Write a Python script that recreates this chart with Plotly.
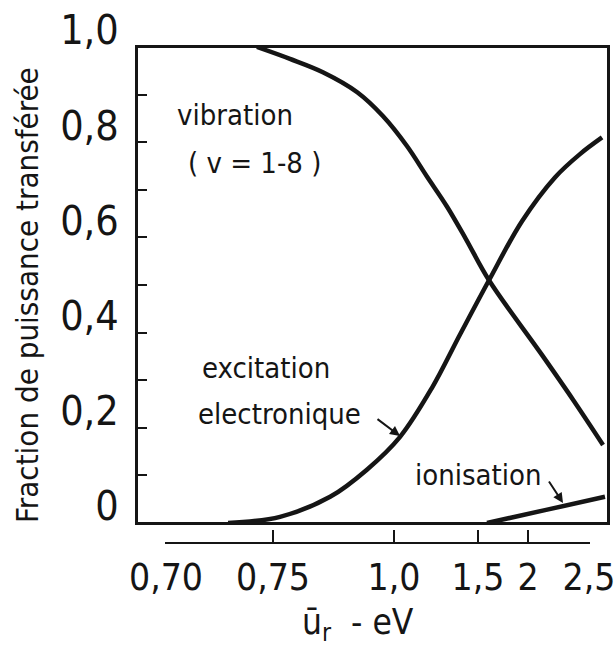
import numpy as np
import plotly.graph_objects as go

# ---- axis definitions (hand-drawn, non-uniform energy scale) ----
X_TICK_VALUES = [0.70, 0.75, 1.0, 1.5, 2.0, 2.5]
X_TICK_LABELS = ["0,70", "0,75", "1,0", "1,5", "2", "2,5"]
X_TICK_SCALE = [6.157, 28.875, 54.565, 72.399, 83.015, 95.966]   # where each tick sits on the 0-100 frame scale

Y_TICK_VALUES = [0, 0.2, 0.4, 0.6, 0.8, 1.0]
Y_TICK_LABELS = ["0", "0,2", "0,4", "0,6", "0,8", "1,0"]

# ---- data (energy in eV, fraction of transferred power) ----
VIB_EV = [0.7425, 0.785, 0.853, 0.924, 0.977, 1.077, 1.196, 1.315, 1.429, 1.61, 2.123, 2.369, 2.615]
VIB_FRAC = [1.0, 0.975, 0.947, 0.905, 0.855, 0.792, 0.728, 0.665, 0.596, 0.51, 0.35, 0.259, 0.164]

EXC_EV = [0.729, 0.7645, 0.868, 0.944, 1.036, 1.226, 1.393, 1.61, 1.94, 2.221, 2.426, 2.607]
EXC_FRAC = [0.0, 0.013, 0.055, 0.112, 0.181, 0.284, 0.396, 0.51, 0.634, 0.726, 0.775, 0.81]

ION_EV = [1.59, 2.139, 2.631]
ION_FRAC = [0.0, 0.027, 0.055]


def to_scale(values):
    """Map energies onto the drawn (piecewise) axis scale, extrapolating linearly past the ends."""
    v = np.asarray(values, dtype=float)
    xv = np.asarray(X_TICK_VALUES)
    xs = np.asarray(X_TICK_SCALE)
    out = np.interp(v, xv, xs)
    hi_slope = (xs[-1] - xs[-2]) / (xv[-1] - xv[-2])
    lo_slope = (xs[1] - xs[0]) / (xv[1] - xv[0])
    out = np.where(v > xv[-1], xs[-1] + (v - xv[-1]) * hi_slope, out)
    out = np.where(v < xv[0], xs[0] + (v - xv[0]) * lo_slope, out)
    return out


INK = "#151515"
FONT = "'Liberation Sans Narrow', 'DejaVu Sans Condensed', 'Roboto Condensed', 'Arial Narrow', Roboto, sans-serif"

fig = go.Figure()
line_style = dict(color=INK, width=4.5, shape="spline", smoothing=1.0)
for ev, frac, name in [(VIB_EV, VIB_FRAC, "vibration"),
                       (EXC_EV, EXC_FRAC, "excitation electronique"),
                       (ION_EV, ION_FRAC, "ionisation")]:
    fig.add_trace(go.Scatter(x=to_scale(ev), y=frac, mode="lines", line=line_style,
                             name=name, showlegend=False, hoverinfo="skip"))

# invisible trace that carries the tick bracket axis below the frame
fig.add_trace(go.Scatter(x=to_scale(X_TICK_VALUES), y=[0] * len(X_TICK_VALUES), mode="none",
                         xaxis="x2", yaxis="y3", showlegend=False, hoverinfo="skip"))

W, H = 616, 647
L, R, T, B = 137, 8, 47, 104
PW, PH = W - L - R, H - T - B
FRAME_BOTTOM = 523


def xp(px):
    return (px - L) / PW


def yp(py):
    return (H - B - py) / PH


pad = 0.15
ydom = [(H - B - FRAME_BOTTOM) / PH, 1]
fig.update_layout(
    width=W, height=H,
    margin=dict(l=L, r=R, t=T, b=B, pad=0, autoexpand=False),
    paper_bgcolor="white", plot_bgcolor="rgba(0,0,0,0)",
    font=dict(family=FONT, color=INK),
    xaxis=dict(range=[0, 100], domain=[0, 1], automargin=False, anchor="y",
               showline=True, mirror=True, linecolor=INK, linewidth=2,
               ticks="", showticklabels=False, showgrid=False, zeroline=False, fixedrange=True),
    xaxis2=dict(range=[X_TICK_SCALE[0] - pad, X_TICK_SCALE[-1] + pad],
                domain=[(X_TICK_SCALE[0] - pad) / 100, (X_TICK_SCALE[-1] + pad) / 100],
                anchor="free", position=0, side="bottom", automargin=False,
                showline=True, linecolor=INK, linewidth=2,
                ticks="inside", ticklen=12, tickwidth=2, tickcolor=INK,
                tickmode="array", tickvals=list(to_scale(X_TICK_VALUES)), ticktext=X_TICK_LABELS,
                tickfont=dict(size=37, color=INK, family=FONT), ticklabelstandoff=2,
                ticklabeloverflow="allow",
                showgrid=False, zeroline=False, fixedrange=True),
    yaxis=dict(range=[0, 1], domain=ydom, anchor="x", automargin=False,
               showline=True, mirror=True, linecolor=INK, linewidth=2,
               ticks="inside", ticklen=10, tickwidth=2, tickcolor=INK,
               tickmode="array", tickvals=Y_TICK_VALUES, ticktext=Y_TICK_LABELS,
               minor=dict(ticks="inside", ticklen=10, tickwidth=2, tickcolor=INK,
                          tickmode="array", tickvals=[0.1, 0.3, 0.5, 0.7, 0.9]),
               tickfont=dict(size=41, color=INK, family=FONT), ticklabelshift=-17, ticklabelstandoff=8,
               showgrid=False, zeroline=False, fixedrange=True),
    yaxis3=dict(range=[0, 1], domain=ydom, anchor="x2", visible=False, fixedrange=True),
)

# plot frame (outline of the plotting area)
fig.add_shape(type="rect", xref="x domain", yref="y domain", x0=0, x1=1, y0=0, y1=1,
              line=dict(color=INK, width=2), fillcolor="rgba(0,0,0,0)", layer="above")

txt = dict(size=29, color=INK, family=FONT)
ann = [
    dict(text="vibration", x=xp(175), y=yp(115), xanchor="left", yanchor="middle"),
    dict(text="( v = 1-8 )", x=xp(186), y=yp(163), xanchor="left", yanchor="middle"),
    dict(text="excitation", x=xp(200), y=yp(368), xanchor="left", yanchor="middle"),
    dict(text="electronique", x=xp(196), y=yp(414), xanchor="left", yanchor="middle"),
    dict(text="ionisation", x=xp(413), y=yp(475), xanchor="left", yanchor="middle"),
]
for a in ann:
    fig.add_annotation(xref="paper", yref="paper", showarrow=False, font=txt, **a)

# pointer arrows
for tip, tail in [((400, 436), (376, 418)), ((563, 503), (548, 480))]:
    fig.add_annotation(xref="paper", yref="paper", x=xp(tip[0]), y=yp(tip[1]),
                       ax=tail[0] - tip[0], ay=tail[1] - tip[1], axref="pixel", ayref="pixel",
                       text="", showarrow=True, arrowhead=2, arrowsize=1, arrowwidth=2,
                       arrowcolor=INK)

fig.add_annotation(xref="paper", yref="paper", x=xp(27), y=yp(295), text="Fraction de puissance transférée",
                   textangle=-90, showarrow=False, xanchor="center", yanchor="middle",
                   font=dict(size=31, color=INK, family=FONT))
fig.add_annotation(xref="paper", yref="paper", x=xp(358), y=yp(624), text="ū<sub>r</sub>  - eV",
                   showarrow=False, xanchor="center", yanchor="middle",
                   font=dict(size=35, color=INK, family=FONT))

fig.write_html("out.html", config={"displayModeBar": False},
               post_script="document.body.style.margin='0px'; document.body.style.overflow='hidden';")
